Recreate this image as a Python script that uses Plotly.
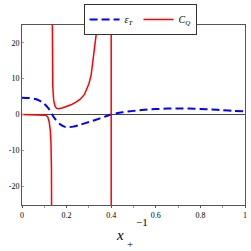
import plotly.graph_objects as go

# epsilon_T (blue dashed)
eps_x = [0, 0.03, 0.06, 0.08, 0.10, 0.12, 0.135, 0.15, 0.17, 0.19, 0.21, 0.23, 0.26, 0.30, 0.35, 0.40,
         0.45, 0.50, 0.55, 0.60, 0.65, 0.70, 0.75, 0.80, 0.85, 0.90, 0.95, 1.0]
eps_y = [4.7, 4.6, 4.3, 3.8, 3.0, 1.6, 0.0, -1.4, -2.7, -3.4, -3.55, -3.4, -2.9, -2.1, -1.1, 0.0,
         0.6, 1.0, 1.3, 1.5, 1.65, 1.7, 1.65, 1.55, 1.4, 1.2, 1.0, 0.85]

# C_Q (red) branches separated by None
cq_x = [0, 0.05, 0.09, 0.105, 0.115, 0.122, 0.127, 0.130, 0.132, 0.1335, None,
        0.1345, 0.136, 0.138, 0.142, 0.148, 0.155, 0.165, 0.18, 0.20, 0.22, 0.24, 0.26, 0.28, 0.30,
        0.31, 0.318, 0.33, 0.338, 0.345, None,
        0.4, 0.4]
cq_y = [0, 0, -0.05, -0.2, -0.6, -2.1, -4.5, -8, -15, -40, None,
        40, 15, 8, 4, 2.3, 1.7, 1.6, 1.8, 2.2, 2.7, 3.4, 4.2, 5.6, 8.6,
        11, 15, 20, 25, 32, None,
        -40, 40]

x_ticks = [0, 0.2, 0.4, 0.6, 0.8, 1]
x_ticktext = ["0", "0.2", "0.4", "0.6", "0.8", "1"]
y_ticks = [-20, -10, 0, 10, 20]
y_ticktext = ["-20", "-10", "0", "10", "20"]

serif = "Liberation Serif"

fig = go.Figure()
fig.add_trace(go.Scatter(x=eps_x, y=eps_y, mode="lines", name="<i>ε</i><sub><i>T</i></sub>",
                         line=dict(color="#0000ff", width=2, dash="8px,4px", shape="spline", smoothing=0.6)))
fig.add_trace(go.Scatter(x=cq_x, y=cq_y, mode="lines", name="<i>C</i><sub><i>Q</i></sub>",
                         line=dict(color="#ff0000", width=1.5), connectgaps=False))

fig.update_layout(
    width=251, height=251, autosize=False,
    margin=dict(l=22, r=4, t=25, b=46),
    paper_bgcolor="white", plot_bgcolor="white",
    showlegend=True,
    legend=dict(orientation="h", x=0.276, y=1.117, xanchor="left", yanchor="top",
                bordercolor="#333333", borderwidth=1, font=dict(family=serif, size=10, color="black"),
                itemwidth=30, tracegroupgap=0, bgcolor="white"),
    font=dict(family=serif, size=8, color="black"),
)
fig.update_xaxes(range=[0, 1], tickvals=x_ticks, ticktext=x_ticktext, showgrid=False, zeroline=False,
                 showline=True, linecolor="#555555", linewidth=1, mirror=True,
                 ticks="outside", ticklen=2, tickcolor="#555555",
                 minor=dict(dtick=0.1, ticks="outside", ticklen=2, tickcolor="#999999"),
                 tickfont=dict(family=serif, size=8))
fig.update_yaxes(range=[-25.3, 25], tickvals=y_ticks, ticktext=y_ticktext, showgrid=False,
                 zeroline=True, zerolinecolor="#444444", zerolinewidth=1,
                 showline=True, linecolor="#555555", linewidth=1, mirror=True,
                 ticks="inside", ticklen=2, tickcolor="#999999",
                 tickfont=dict(family=serif, size=8))

for px, py, txt, sz in [(121, 235, "<i>x</i>", 15), (131, 244, "+", 11), (143, 222, "−1", 11)]:
    fig.add_annotation(x=(px - 22) / 225, y=(205 - py) / 180, xref="paper", yref="paper", text=txt,
                       showarrow=False, xanchor="center", yanchor="middle",
                       font=dict(family=serif, size=sz, color="black"))

fig.write_html("out.html", config={"displayModeBar": False},
               post_script="document.body.style.margin='0';document.body.style.padding='0';")
